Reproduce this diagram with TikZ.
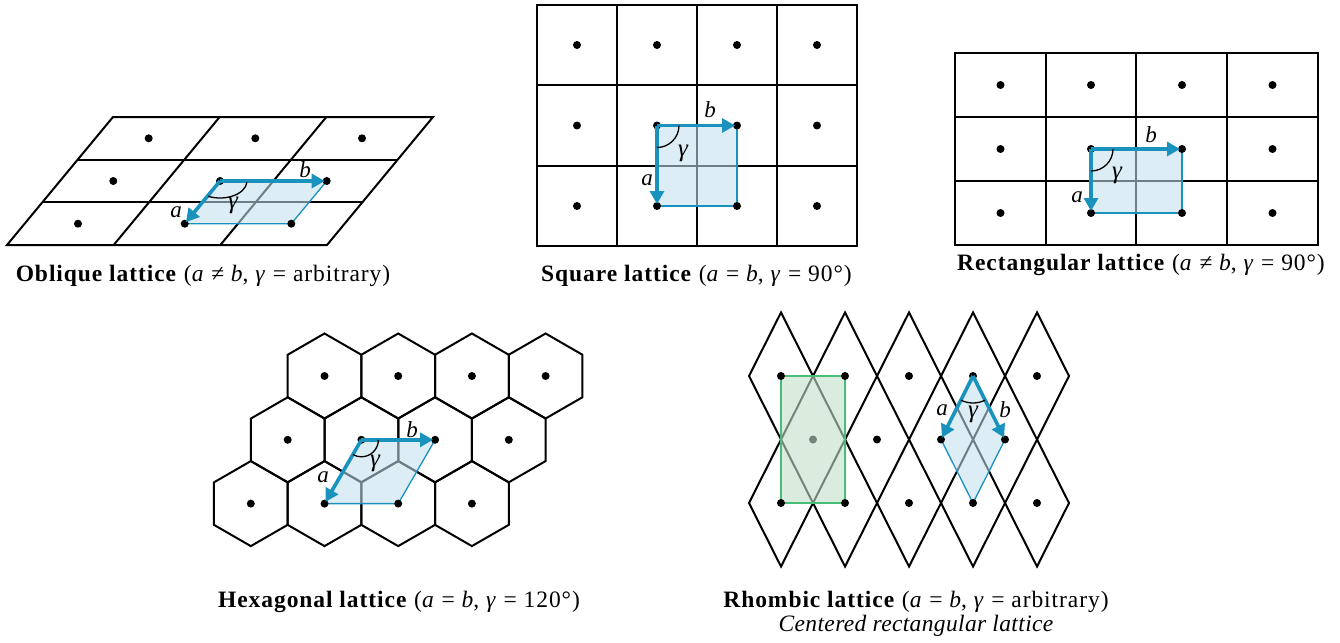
\documentclass[tikz,border=0pt]{standalone}
\usepackage{fontspec}
\setmainfont{Liberation Serif}
\usetikzlibrary{arrows.meta}
\definecolor{vecblue}{RGB}{26,146,190}
\definecolor{cellblue}{RGB}{193,223,237}
\definecolor{cellgreen}{RGB}{192,223,200}
\definecolor{edgegreen}{RGB}{70,190,120}
\begin{document}
\begin{tikzpicture}[x=1pt,y=-1pt,
  lat/.style={line width=2pt, line join=miter, draw=black},
  bluecell/.style={fill=cellblue, fill opacity=0.57, draw=vecblue, line width=1.3pt},
  greencell/.style={fill=cellgreen, fill opacity=0.6, draw=edgegreen, line width=1.5pt},
  vec/.style={draw=vecblue, line width=3.6pt, -{Triangle[length=13pt,width=14pt]}, shorten >=2pt},
  angarc/.style={draw=black, line width=1.3pt},
  lbl/.style={font=\fontsize{23}{26}\selectfont\itshape, inner sep=0pt},
  glbl/.style={font=\fontsize{25}{28}\selectfont\itshape, inner sep=0pt},
  captext/.style={font=\fontsize{23.5}{27}\selectfont\addfontfeatures{LetterSpace=4}, anchor=base, inner sep=0pt},
  subcap/.style={font=\fontsize{23.5}{27}\selectfont\itshape\addfontfeatures{LetterSpace=1.5}, anchor=base, inner sep=0pt}]
\useasboundingbox (0,0) rectangle (1340,642);

% ================= Oblique lattice =================
\draw[lat] (113,117) -- (433,117) -- (327,245) -- (7,245) -- cycle;
\foreach \j in {1,2} \draw[lat] ({113-35.333*\j},{117+42.667*\j}) -- ({433-35.333*\j},{117+42.667*\j});
\foreach \i in {1,2} \draw[lat] ({113+106.667*\i},117) -- ({7+106.667*\i},245);
\path[bluecell] (220,181) -- (326.7,181) -- (291.3,223.7) -- (184.7,223.7) -- cycle;
\foreach \x/\y in {148.7/138.3,255.3/138.3,362/138.3,113.3/181,220/181,326.7/181,78/223.7,184.7/223.7,291.3/223.7}
  \fill (\x,\y) circle[radius=4];
\coordinate (oO) at (220,181);
\coordinate (oA) at (184.7,223.7);
\coordinate (oB) at (326.7,181);
\draw[vec] (oO) -- (oA);
\draw[vec] (oO) -- (oB);
\draw[angarc] ([shift={(4:27 and 17)}]oO) arc[start angle=4, end angle=116, x radius=27, y radius=17];
\node[lbl] (oa) at (176,212) {a};
\node[lbl] (ob) at (305,170) {b};
\node[glbl] (og) at (233,205) {γ};
\node[captext] (capO) at (203,281) {\textbf{Oblique lattice} (\textit{a} ≠ \textit{b}, \textit{γ} = arbitrary)};

% ================= Square lattice =================
\draw[lat] (537,5) rectangle (857,246);
\foreach \x in {617,697,777} \draw[lat] (\x,5) -- (\x,246);
\foreach \y in {85,166} \draw[lat] (537,\y) -- (857,\y);
\path[bluecell] (657,125.5) rectangle (737,206);
\foreach \x in {577,657,737,817}
  \foreach \y in {45,125.5,206}
    \fill (\x,\y) circle[radius=4];
\coordinate (sO) at (657,125.5);
\coordinate (sA) at (657,206);
\coordinate (sB) at (737,125.5);
\draw[vec] (sO) -- (sA);
\draw[vec] (sO) -- (sB);
\draw[angarc] ([shift={(0:22)}]sO) arc[start angle=0, end angle=90, radius=22];
\node[lbl] (sa) at (647,180) {a};
\node[lbl] (sb) at (710,110) {b};
\node[glbl] (sg) at (683,153) {γ};
\node[captext] (capS) at (696.5,281) {\textbf{Square lattice} (\textit{a} = \textit{b}, \textit{γ} = 90°)};

% ================= Rectangular lattice =================
\draw[lat] (955,53) rectangle (1318,245);
\foreach \x in {1046,1136,1227} \draw[lat] (\x,53) -- (\x,245);
\foreach \y in {117,181} \draw[lat] (955,\y) -- (1318,\y);
\path[bluecell] (1091,149) rectangle (1182,213);
\foreach \x in {1000.5,1091,1182,1272.5}
  \foreach \y in {85,149,213}
    \fill (\x,\y) circle[radius=4];
\coordinate (rO) at (1091,149);
\coordinate (rA) at (1091,213);
\coordinate (rB) at (1182,149);
\draw[vec] (rO) -- (rA);
\draw[vec] (rO) -- (rB);
\draw[angarc] ([shift={(0:22)}]rO) arc[start angle=0, end angle=90, radius=22];
\node[lbl] (ra) at (1077,197) {a};
\node[lbl] (rb) at (1151,135) {b};
\node[glbl] (rg) at (1117,175) {γ};
\node[captext] (capR) at (1141,270) {\textbf{Rectangular lattice} (\textit{a} ≠ \textit{b}, \textit{γ} = 90°)};

% ================= Hexagonal lattice =================
\foreach \cx/\cy in {324.5/376,398.2/376,471.9/376,545.6/376,
                     287.7/439.8,361.4/439.8,435.1/439.8,508.8/439.8,
                     250.8/503.6,324.5/503.6,398.2/503.6,471.9/503.6}
  \draw[lat] (\cx,\cy-42.5) -- (\cx+36.85,\cy-21.25) -- (\cx+36.85,\cy+21.25) -- (\cx,\cy+42.5)
     -- (\cx-36.85,\cy+21.25) -- (\cx-36.85,\cy-21.25) -- cycle;
\path[bluecell] (361.4,439.8) -- (435.1,439.8) -- (398.2,503.6) -- (324.5,503.6) -- cycle;
\foreach \cx/\cy in {324.5/376,398.2/376,471.9/376,545.6/376,
                     287.7/439.8,361.4/439.8,435.1/439.8,508.8/439.8,
                     250.8/503.6,324.5/503.6,398.2/503.6,471.9/503.6}
  \fill (\cx,\cy) circle[radius=4];
\coordinate (hO) at (361.4,439.8);
\coordinate (hA) at (324.5,503.6);
\coordinate (hB) at (435.1,439.8);
\draw[vec] (hO) -- (hA);
\draw[vec] (hO) -- (hB);
\draw[angarc] ([shift={(0:17)}]hO) arc[start angle=0, end angle=120, radius=17];
\node[lbl] (ha) at (323,477) {a};
\node[lbl] (hb) at (412,430) {b};
\node[glbl] (hg) at (375,463) {γ};
\node[captext] (capH) at (399,607) {\textbf{Hexagonal lattice} (\textit{a} = \textit{b}, \textit{γ} = 120°)};

% ================= Rhombic lattice =================
\foreach \cx in {781,845,909,973,1037} {
  \draw[lat] (\cx,312.5) -- (\cx+32,376) -- (\cx,439.5) -- (\cx-32,376) -- cycle;
  \draw[lat] (\cx,439.5) -- (\cx+32,503) -- (\cx,566.5) -- (\cx-32,503) -- cycle;
}
\fill (813,439.5) circle[radius=4];
\path[greencell] (781,376) rectangle (845,503);
\path[bluecell] (973,376) -- (1005,439.5) -- (973,503) -- (941,439.5) -- cycle;
\foreach \x in {781,845,909,973,1037} {
  \fill (\x,376) circle[radius=4];
  \fill (\x,503) circle[radius=4];
}
\foreach \x in {877,941,1005} \fill (\x,439.5) circle[radius=4];
\coordinate (mO) at (973,376);
\coordinate (mA) at (941,439.5);
\coordinate (mB) at (1005,439.5);
\draw[vec] (mO) -- (mA);
\draw[vec] (mO) -- (mB);
\draw[angarc] ([shift={(63.4:27)}]mO) arc[start angle=63.4, end angle=116.6, radius=27];
\node[lbl] (ma) at (942,410) {a};
\node[lbl] (mb) at (1005,410) {b};
\node[glbl] (mg) at (973,414) {γ};
\node[captext] (capM) at (916,607) {\textbf{Rhombic lattice} (\textit{a} = \textit{b}, \textit{γ} = arbitrary)};
\node[subcap] (capM2) at (916,631) {Centered rectangular lattice};
\end{tikzpicture}
\end{document}
